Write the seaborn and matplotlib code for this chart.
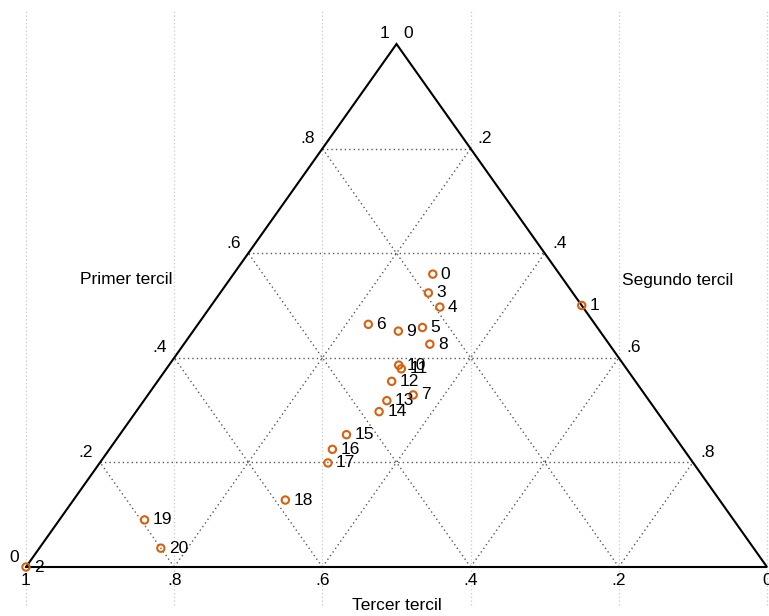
import numpy as np
import pandas as pd
import matplotlib
matplotlib.use("Agg")
import matplotlib.pyplot as plt
import seaborn as sns

# Shares of each observation in the three terciles
ids = [0, 1, 2, 3, 4, 5, 6, 7, 8, 9, 10, 11, 12, 13, 14, 15, 16, 17, 18, 19, 20]
primer = [0.560, 0.500, 0.000, 0.524, 0.497, 0.458, 0.464, 0.329, 0.426, 0.451, 0.386,
          0.379, 0.355, 0.318, 0.297, 0.253, 0.225, 0.199, 0.128, 0.090, 0.036]
segundo = [0.269, 0.500, 0.000, 0.281, 0.310, 0.306, 0.230, 0.358, 0.332, 0.277, 0.310,
           0.317, 0.316, 0.328, 0.328, 0.306, 0.301, 0.308, 0.286, 0.115, 0.164]
tercer = [round(1 - p - s, 3) for p, s in zip(primer, segundo)]

grid_vals = [0.2, 0.4, 0.6, 0.8]
tick_vals = [0, 0.2, 0.4, 0.6, 0.8, 1]
tick_labels = ["0", ".2", ".4", ".6", ".8", "1"]

sns.set_style("white")
plt.rcParams["font.family"] = ["Liberation Sans", "DejaVu Sans"]
plt.rcParams["text.color"] = "black"

df = pd.DataFrame({"id": ids, "primer": primer, "segundo": segundo, "tercer": tercer})
# ternary -> cartesian: bottom-left = tercer, bottom-right = segundo, top = primer
df["x"] = df["segundo"] + df["primer"] / 2
df["y"] = df["primer"]

fig = plt.figure(figsize=(7.69, 6.16), dpi=100)
ax = fig.add_axes([0, 0, 1, 1])
ax.set_xlim(-26 / 741, 743 / 741)
ax.set_ylim(-49 / 523, 1 + 44 / 523)
ax.axis("off")

# light vertical background grid
ax.vlines(tick_vals, -38 / 523, 558 / 523, colors="#c8c8c8", linestyles=(0, (1, 2)),
          linewidth=0.9, zorder=0)

# inner triangular grid
gkw = dict(color="#5a5a5a", linestyle=(0, (1, 2.2)), linewidth=1.0, zorder=1)
for v in grid_vals:
    ax.plot([v / 2, 1 - v / 2], [v, v], **gkw)                   # constant primer
    ax.plot([1 - v, (1 - v) / 2], [0, 1 - v], **gkw)             # constant tercer
    ax.plot([v, v + (1 - v) / 2], [0, 1 - v], **gkw)             # constant segundo

# triangle frame
ax.plot([0, 1, 0.5, 0], [0, 0, 1, 0], color="black", linewidth=1.5, zorder=2,
        solid_joinstyle="miter")

fs = 12.5
tc = "black"
# primer tercil ticks (left edge)
for v, lab in zip(tick_vals, tick_labels):
    ax.annotate(lab, (v / 2, v), xytext=(-5.4, 7.2), textcoords="offset points",
                ha="right", va="center", fontsize=fs, color=tc)
# segundo tercil ticks (right edge)
for v, lab in zip(tick_vals, tick_labels):
    ax.annotate(lab, (0.5 + v / 2, 1 - v), xytext=(5.2, 7.2), textcoords="offset points",
                ha="left", va="center", fontsize=fs, color=tc)
# tercer tercil ticks (bottom edge)
for v, lab in zip(tick_vals, tick_labels):
    ax.annotate(lab, (1 - v, 0), xytext=(0, -9.5), textcoords="offset points",
                ha="center", va="center", fontsize=fs, color=tc)

# axis titles
ax.text(172 / 769, 1 - 280 / 616, "Primer tercil", transform=ax.transAxes,
        ha="right", va="center", fontsize=fs, color=tc)
ax.text(622 / 769, 1 - 280 / 616, "Segundo tercil", transform=ax.transAxes,
        ha="left", va="center", fontsize=fs, color=tc)
ax.text(397 / 769, 1 - 606 / 616, "Tercer tercil", transform=ax.transAxes,
        ha="center", va="center", fontsize=fs, color=tc)

sns.scatterplot(data=df, x="x", y="y", ax=ax, marker="o", s=28,
                facecolors="none", edgecolor="#d9600c", linewidth=1.5, zorder=3,
                legend=False)
for _, r in df.iterrows():
    ax.annotate(str(int(r["id"])), (r["x"], r["y"]), xytext=(5.8, 0),
                textcoords="offset points", ha="left", va="center", fontsize=fs,
                color=tc, zorder=4)

fig.savefig("out.png", dpi=100)
